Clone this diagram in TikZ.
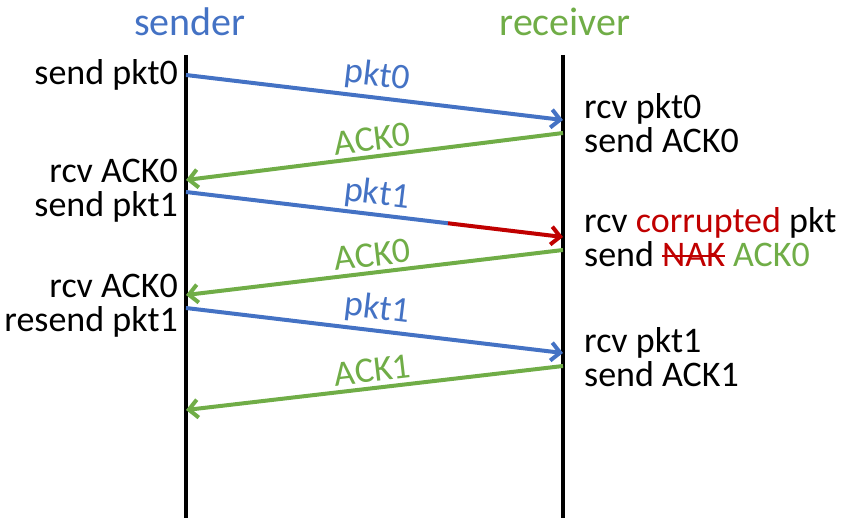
\documentclass[tikz,border=0pt]{standalone}
\usepackage{fontspec}
\setmainfont{Carlito}
\usetikzlibrary{arrows.meta,calc}
\definecolor{pktblue}{HTML}{4472C4}
\definecolor{ackgreen}{HTML}{70AD47}
\definecolor{errred}{HTML}{C00000}
\newsavebox{\strikebox}
\newcommand{\struck}[1]{\sbox{\strikebox}{#1}\rlap{\rule[0.25em]{\wd\strikebox}{2pt}}\usebox{\strikebox}}

\begin{document}
\begin{tikzpicture}[x=1pt, y=-1pt,
    lifeline/.style={line width=4pt, black},
    msg/.style={line width=4pt, -{Straight Barb[length=9pt,width=18pt]}},
    lbl/.style={midway, above=4pt, sloped, inner sep=0pt, font=\fontsize{36}{34}\selectfont},
    evt/.style={inner sep=0pt, font=\fontsize{36}{34}\selectfont},
    title/.style={inner sep=0pt, font=\fontsize{40}{40}\selectfont}]
        \useasboundingbox (0,0) rectangle (846,518);
        % lifelines
        \node[title, pktblue] (sender) at (190,22) {sender};
        \node[title, ackgreen] (receiver) at (565,22) {receiver};
        \coordinate (stop) at (186,55);
        \coordinate (sbot) at (186,518);
        \coordinate (rtop) at (563,55);
        \coordinate (rbot) at (563,518);
        \draw[lifeline] (stop) -- (sbot);
        \draw[lifeline] (rtop) -- (rbot);
        % events at the sender
        \node[evt, anchor=east, align=right] (s1) at (178,75) {send pkt0};
        \node[evt, anchor=east, align=right] (s2) at (178,191) {rcv ACK0\\send pkt1};
        \node[evt, anchor=east, align=right] (s3) at (178,306) {rcv ACK0\\resend pkt1};
        % events at the receiver
        \node[evt, anchor=west, align=left] (r1) at (584,123) {rcv pkt0\\send ACK0};
        \node[evt, anchor=west, align=left] (r2) at (584,237) {rcv \textcolor{errred}{corrupted} pkt\\send \textcolor{errred}{\struck{NAK}} \textcolor{ackgreen}{ACK0}};
        \node[evt, anchor=west, align=left] (r3) at (584,357) {rcv pkt1\\send ACK1};
        % message end points
        \coordinate (a0) at (186,75);
        \coordinate (b0) at (563,120);
        \coordinate (b1) at (563,133);
        \coordinate (a1) at (186,180);
        \coordinate (a2) at (186,192);
        \coordinate (b2) at (563,237);
        \coordinate (b3) at (563,250);
        \coordinate (a3) at (186,295);
        \coordinate (a4) at (186,308);
        \coordinate (b4) at (563,353);
        \coordinate (b5) at (563,366);
        \coordinate (a5) at (186,410);
        \coordinate (cut) at ($(a2)!0.695!(b2)$);
        % messages
        \draw[msg, pktblue] (a0) -- (b0) node[lbl] {pkt0};
        \draw[msg, ackgreen] (b1) -- (a1) node[lbl] {ACK0};
        \draw[line width=4pt, pktblue] (a2) -- (cut);
        \draw[msg, errred] (cut) -- (b2);
        \path (a2) -- (b2) node[lbl, pktblue] {pkt1};
        \draw[msg, ackgreen] (b3) -- (a3) node[lbl] {ACK0};
        \draw[msg, pktblue] (a4) -- (b4) node[lbl] {pkt1};
        \draw[msg, ackgreen] (b5) -- (a5) node[lbl] {ACK1};
\end{tikzpicture}
\end{document}
